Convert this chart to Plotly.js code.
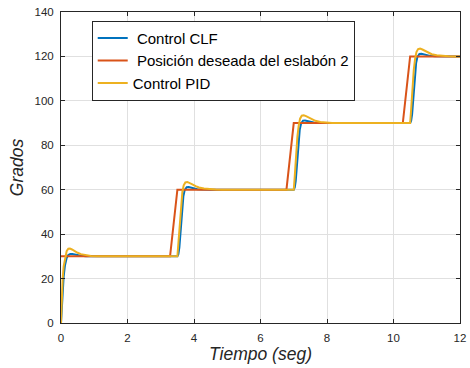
<!DOCTYPE html>
<html>
<head>
<meta charset="utf-8">
<script src="https://cdn.plot.ly/plotly-3.0.1.min.js"></script>
<style>html,body{margin:0;padding:0;background:#fff;}#chart{width:470px;height:368px;}</style>
</head>
<body>
<div id="chart"></div>
<script>
// Series names
const seriesNames = ["\u00a0Control CLF", "\u00a0Posición deseada del eslabón 2", "Control PID"];

// Control CLF (blue)
const clfTime = [0, 0.02, 0.05, 0.08, 0.12, 0.17, 0.22, 0.28, 0.34, 0.42, 0.5, 0.6, 0.75, 0.9, 1.1,
  3.5, 3.53, 3.56, 3.6, 3.64, 3.68, 3.72, 3.78, 3.84, 3.92, 4.0, 4.1, 4.25, 4.4, 4.6,
  7.0, 7.03, 7.06, 7.1, 7.14, 7.18, 7.22, 7.28, 7.34, 7.42, 7.5, 7.6, 7.75, 7.9, 8.1,
  10.5, 10.53, 10.56, 10.6, 10.64, 10.68, 10.72, 10.78, 10.84, 10.92, 11.0, 11.1, 11.25, 11.4, 11.6, 12];
const clfValue = [0, 6, 15, 21, 26, 29.3, 30.6, 31.1, 31.1, 30.8, 30.5, 30.25, 30.1, 30.03, 30,
  30, 31, 34, 41, 50, 57, 59.8, 61.1, 61.2, 60.9, 60.5, 60.25, 60.1, 60.03, 60,
  60, 61, 64, 71, 80, 87, 89.8, 91.1, 91.2, 90.9, 90.5, 90.25, 90.1, 90.03, 90,
  90, 91, 94, 101, 110, 117, 119.8, 121.1, 121.2, 120.9, 120.5, 120.25, 120.1, 120.03, 120, 120];

// Desired position (red)
const refTime = [0, 3.28, 3.5, 6.78, 7.0, 10.28, 10.5, 12];
const refValue = [30, 30, 60, 60, 90, 90, 120, 120];

// Control PID (yellow)
const pidTime = [0, 0.02, 0.05, 0.08, 0.12, 0.17, 0.22, 0.27, 0.33, 0.4, 0.5, 0.6, 0.75, 0.9, 1.1, 1.3,
  3.5, 3.53, 3.57, 3.61, 3.65, 3.69, 3.74, 3.8, 3.87, 3.95, 4.05, 4.15, 4.3, 4.45, 4.65, 4.85,
  7.0, 7.03, 7.07, 7.11, 7.15, 7.19, 7.24, 7.3, 7.37, 7.45, 7.55, 7.65, 7.8, 7.95, 8.15, 8.35,
  10.5, 10.53, 10.57, 10.61, 10.65, 10.69, 10.74, 10.8, 10.87, 10.95, 11.05, 11.15, 11.3, 11.45, 11.65, 11.85, 12];
const pidValue = [0, 10, 20, 25.5, 29.5, 32.3, 33.4, 33.5, 33.1, 32.4, 31.6, 31.0, 30.5, 30.2, 30.05, 30,
  30, 36, 46, 54, 59, 62, 63.3, 63.5, 63.1, 62.4, 61.6, 61.0, 60.5, 60.2, 60.05, 60,
  60, 66, 76, 84, 89, 92, 93.3, 93.5, 93.1, 92.4, 91.6, 91.0, 90.5, 90.2, 90.05, 90,
  90, 96, 106, 114, 119, 122, 123.3, 123.5, 123.1, 122.4, 121.6, 121.0, 120.5, 120.2, 120.05, 120, 120];

// Ticks
const xTicks = [0, 2, 4, 6, 8, 10, 12];
const yTicks = [0, 20, 40, 60, 80, 100, 120, 140];

const colors = ["#0072BD", "#D95319", "#EDB120"];
const font = "Liberation Sans, Arial, Helvetica, sans-serif";

const traces = [
  {x: clfTime, y: clfValue, name: seriesNames[0], mode: "lines", line: {color: colors[0], width: 2}},
  {x: refTime, y: refValue, name: seriesNames[1], mode: "lines", line: {color: colors[1], width: 2}},
  {x: pidTime, y: pidValue, name: seriesNames[2], mode: "lines", line: {color: colors[2], width: 2}}
];

const axisCommon = {
  showline: true, mirror: "ticks", linecolor: "#262626", linewidth: 1,
  ticks: "inside", ticklen: 4, tickcolor: "#262626",
  showgrid: true, gridcolor: "#e0e0e0", gridwidth: 1, zeroline: false,
  tickfont: {family: font, size: 11.5, color: "#262626"}
};

const layout = {
  width: 470, height: 368,
  margin: {l: 61, r: 10, t: 12, b: 45},
  paper_bgcolor: "#ffffff", plot_bgcolor: "#ffffff",
  showlegend: true,
  xaxis: Object.assign({}, axisCommon, {
    range: [0, 12], tickvals: xTicks, ticktext: xTicks.map(String), ticklabelstandoff: 4,
    title: {text: "Tiempo (seg)", font: {family: font, size: 17.5, color: "#262626", style: "italic"}, standoff: 4}
  }),
  yaxis: Object.assign({}, axisCommon, {
    range: [0, 140], tickvals: yTicks, ticktext: yTicks.map(String), ticklabelstandoff: 4,
    title: {text: "Grados", font: {family: font, size: 17.5, color: "#262626", style: "italic"}, standoff: 6}
  }),
  legend: {
    x: 0.077, y: 0.972, xanchor: "left", yanchor: "top",
    bgcolor: "#ffffff", bordercolor: "#262626", borderwidth: 1,
    font: {family: font, size: 15, color: "#000000"},
    tracegroupgap: 0
  }
};

Plotly.newPlot("chart", traces, layout, {displayModeBar: false, staticPlot: true});
</script>
</body>
</html>
